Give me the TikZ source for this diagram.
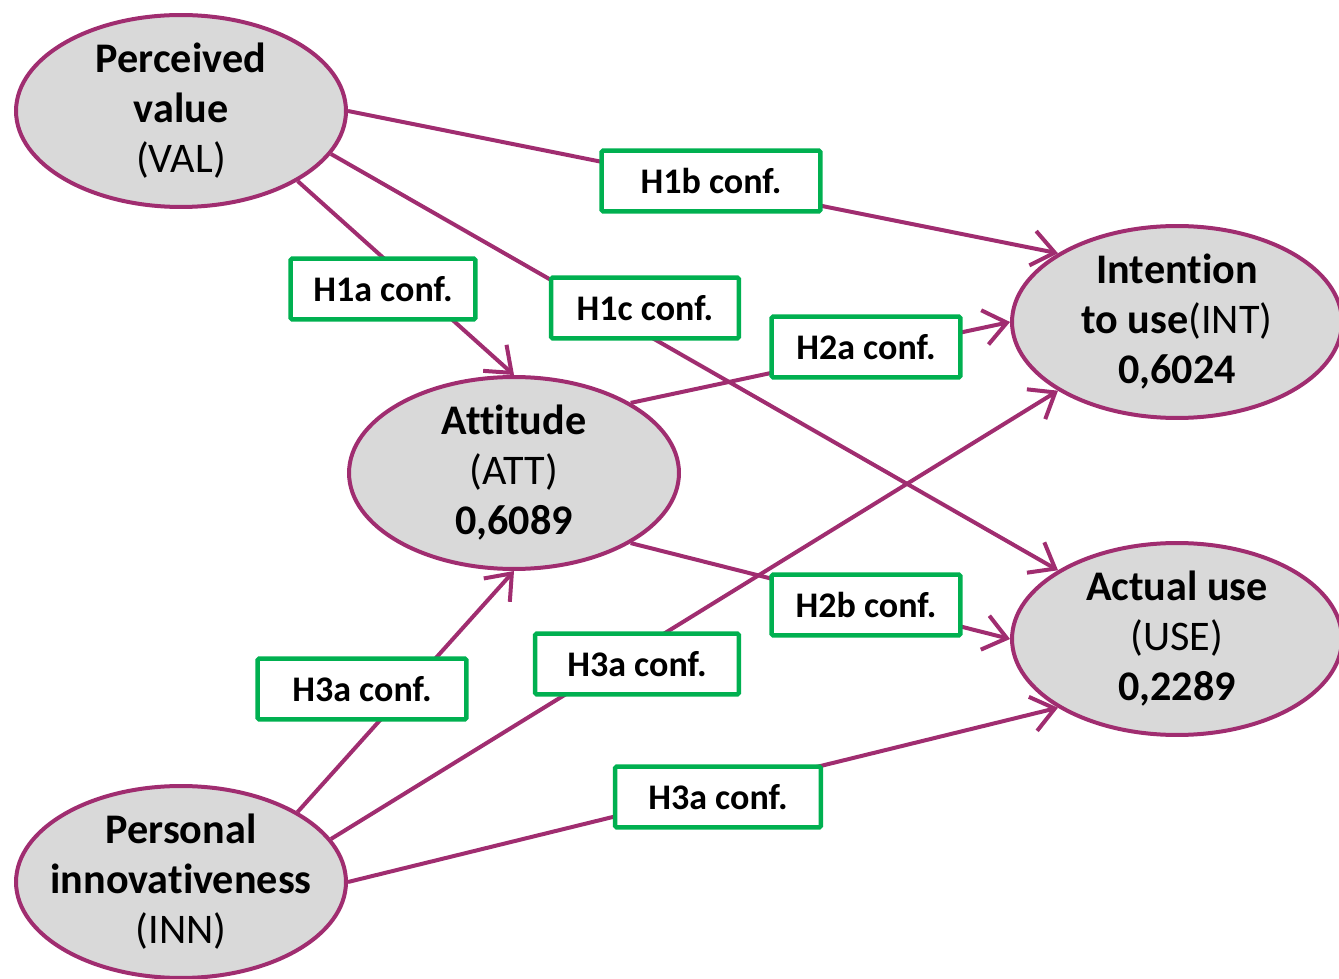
\documentclass[tikz,border=0pt]{standalone}
\usepackage{fontspec}
\setmainfont[RawFeature={-liga,-clig,-calt,-dlig}]{Carlito}
\usetikzlibrary{shapes.geometric,arrows.meta}
\definecolor{plum}{RGB}{160,45,112}
\definecolor{leaf}{RGB}{0,176,80}
\definecolor{shade}{RGB}{217,217,217}
\begin{document}
\begin{tikzpicture}[x=0.02cm, y=-0.02cm,
  construct/.style={ellipse, draw=plum, line width=0.8mm, fill=shade, minimum width=6.6cm,
    minimum height=3.84cm, inner xsep=-0.6cm, inner ysep=-0.4cm, align=center,
    font=\fontsize{24}{28.45}\selectfont},
  tag/.style={draw=leaf, line width=0.9mm, rounded corners=1pt, fill=white, minimum height=1.22cm,
    inner sep=2pt, font=\fontsize{20.5}{24}\selectfont\bfseries},
  path/.style={draw=plum, line width=0.8mm, -{Straight Barb[length=4.5mm, width=7mm, line width=0.8mm]}}]
\useasboundingbox (0,0) rectangle (1339,979);

\node[construct] (val) at (181, 111) {\textbf{Perceived}\\\textbf{value}\\(VAL)};
\node[construct] (att) at (514, 473) {\textbf{Attitude}\\(ATT)\\\textbf{0,6089}};
\node[construct] (int) at (1177, 322) {\textbf{Intention}\\\textbf{to use}(INT)\\\textbf{0,6024}};
\node[construct] (use) at (1177, 639) {\textbf{Actual use}\\(USE)\\\textbf{0,2289}};
\node[construct] (inn) at (181, 882) {\textbf{Personal}\\\textbf{innovativeness}\\(INN)};

\draw[path] (val.east) -- (int.150);
\draw[path] (val.-31) -- (att.north);
\draw[path] (val.-16) -- (use.150);
\draw[path] (att.31) -- (int.west);
\draw[path] (att.-31) -- (use.west);
\draw[path] (inn.31) -- (att.south);
\draw[path] (inn.16) -- (int.210);
\draw[path] (inn.east) -- (use.210);

\node[tag, minimum width=4.38cm] (h1b) at (711, 181) {H1b conf.};
\node[tag, minimum width=3.7cm] (h1a) at (383, 289) {H1a conf.};
\node[tag, minimum width=3.76cm] (h1c) at (645, 308) {H1c conf.};
\node[tag, minimum width=3.78cm] (h2a) at (866, 347) {H2a conf.};
\node[tag, minimum width=3.78cm] (h2b) at (866, 605) {H2b conf.};
\node[tag, minimum width=4.18cm] (h3att) at (362, 689) {H3a conf.};
\node[tag, minimum width=4.08cm] (h3int) at (637, 664) {H3a conf.};
\node[tag, minimum width=4.12cm] (h3use) at (718, 797) {H3a conf.};
\end{tikzpicture}
\end{document}
